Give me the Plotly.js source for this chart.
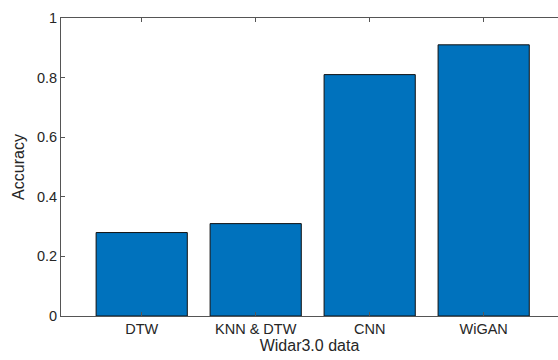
<!DOCTYPE html>
<html><head><meta charset="utf-8">
<script src="https://cdn.plot.ly/plotly-3.0.1.min.js"></script>
<style>html,body{margin:0;padding:0;background:#fff}</style>
</head><body>
<div id="chart" style="width:558px;height:360px"></div>
<script>
const categories = ["DTW", "KNN & DTW", "CNN", "WiGAN"];
const positions = [1, 2, 3, 4];
const accuracy = [0.28, 0.31, 0.81, 0.91];
const yTicks = [0, 0.2, 0.4, 0.6, 0.8, 1];
const yTickLabels = ["0", "0.2", "0.4", "0.6", "0.8", "1"];

const axisColor = "#555555";
const fontFam = "Liberation Sans, Arial, sans-serif";

Plotly.newPlot("chart", [{
  type: "bar",
  x: positions,
  y: accuracy,
  width: 0.8,
  marker: {color: "#0072BD", line: {color: "#111111", width: 1}},
  hoverinfo: "none"
}], {
  width: 558, height: 360,
  margin: {l: 61, r: 0, t: 18, b: 44},
  paper_bgcolor: "#fff", plot_bgcolor: "#fff",
  font: {family: fontFam, size: 14.5, color: "#262626"},
  showlegend: false,
  xaxis: {
    range: [0.292, 4.652],
    tickvals: positions, ticktext: categories,
    ticks: "inside", ticklen: 4, tickcolor: axisColor, tickwidth: 1,
    showline: true, linecolor: axisColor, linewidth: 1, mirror: "ticks",
    showgrid: false, zeroline: false,
    tickfont: {size: 14.5, color: "#262626"},
    title: {text: "Widar3.0 data", font: {size: 16, color: "#262626"}, standoff: 2}
  },
  yaxis: {
    range: [0, 1],
    tickvals: yTicks, ticktext: yTickLabels,
    ticks: "inside", ticklen: 4, tickcolor: axisColor, tickwidth: 1,
    showline: true, linecolor: axisColor, linewidth: 1, mirror: false,
    showgrid: false, zeroline: false,
    tickfont: {size: 14.5, color: "#262626"},
    title: {text: "Accuracy", font: {size: 16, color: "#262626"}, standoff: 8}
  }
}, {staticPlot: true});
</script>
</body></html>
